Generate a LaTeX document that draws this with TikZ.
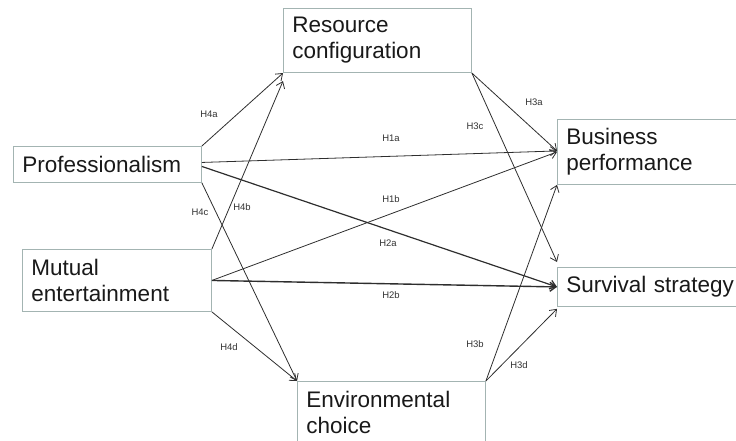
\documentclass[tikz,border=0pt]{standalone}
\usepackage{fontspec}
\setmainfont{Liberation Sans}
\usetikzlibrary{arrows.meta}

\definecolor{boxline}{HTML}{A3B4B2}
\definecolor{arrowline}{HTML}{2E2E2E}

\tikzset{
  box/.style={draw=boxline, line width=0.9pt, anchor=north west, inner sep=9pt,
    align=left, font=\fontsize{22.5}{26}\selectfont, text=black!90},
  lbl/.style={font=\fontsize{9.5}{10}\selectfont, text=black!80, inner sep=1pt},
  path/.style={draw=arrowline, line width=0.8pt,
    -{Straight Barb[length=6pt,width=9pt]}},
}

\begin{document}
\begin{tikzpicture}[x=1pt, y=-1pt]
    \useasboundingbox (0, 0) rectangle (736, 441);
    \clip (0, 0) rectangle (736, 441);

    % Constructs
    \node [box, text width=170pt, minimum height=63pt] (res) at (283, 8)
          {Resource\\configuration};
    \node [box, text width=170pt, minimum height=36pt] (prof) at (13, 146)
          {Professionalism};
    \node [box, text width=171pt, minimum height=62pt] (mut) at (22, 249)
          {Mutual\\entertainment};
    \node [box, text width=170pt, minimum height=63pt] (env) at (297, 381)
          {Environmental\\choice};
    \node [box, text width=190pt, minimum height=62pt] (bus) at (557, 119)
          {Business\\performance};
    \node [box, text width=190pt, minimum height=35pt] (surv) at (557, 267)
          {Survival strategy};

    % Edges to resource configuration and environmental choice
    \draw [path] (prof.north east) -- (res.south west);
    \draw [path] (mut.north east) -- ([yshift=-8pt]res.south west);
    \draw [path] (prof.south east) -- (env.north west);
    \draw [path] (mut.south east) -- (env.north west);

    % Direct edges
    \draw [path] ([yshift=2pt]prof.east) -- ([yshift=1pt]bus.west);
    \draw [path] (mut.east) -- (bus.west);
    \draw [path, line width=1.2pt] ([yshift=-2pt]prof.east) -- (surv.west);
    \draw [path, line width=1.4pt] (mut.east) -- (surv.west);

    % Edges to outcomes
    \draw [path] (res.south east) -- ([yshift=1pt]bus.west);
    \draw [path] (res.south east) -- ([yshift=5pt]surv.north west);
    \draw [path] (env.north east) -- (bus.south west);
    \draw [path] (env.north east) -- ([yshift=-2pt]surv.south west);

    % Hypotheses
    \node [lbl] (h4a) at (209, 114) {H4a};
    \node [lbl] (h4b) at (242, 207) {H4b};
    \node [lbl] (h4c) at (200, 212) {H4c};
    \node [lbl] (h4d) at (229, 347) {H4d};
    \node [lbl] (h1a) at (391, 138) {H1a};
    \node [lbl] (h1b) at (391, 199) {H1b};
    \node [lbl] (h2a) at (388, 243) {H2a};
    \node [lbl] (h2b) at (391, 295) {H2b};
    \node [lbl] (h3a) at (534, 102) {H3a};
    \node [lbl] (h3c) at (475, 126) {H3c};
    \node [lbl] (h3b) at (475, 344) {H3b};
    \node [lbl] (h3d) at (519, 365) {H3d};
\end{tikzpicture}
\end{document}
